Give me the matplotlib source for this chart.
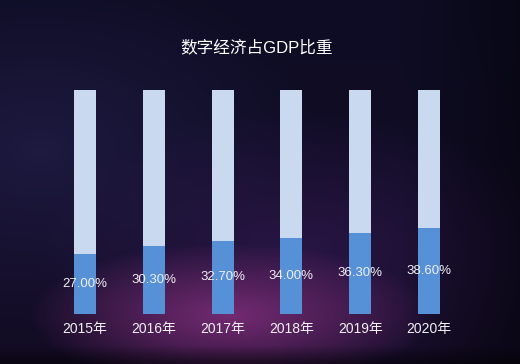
import numpy as np
import matplotlib
matplotlib.use("Agg")
import matplotlib.pyplot as plt

plt.rcParams['font.family'] = ['Liberation Sans', 'Noto Sans CJK SC', 'DejaVu Sans']

years = ['2015年', '2016年', '2017年', '2018年', '2019年', '2020年']
values = [27.00, 30.30, 32.70, 34.00, 36.30, 38.60]
full = [100] * len(values)
labels = [f'{v:.2f}%' for v in values]
title = '数字经济占GDP比重'

W, H = 520, 364
fig = plt.figure(figsize=(W / 100, H / 100), dpi=100)

# background gradient
bg = fig.add_axes([0, 0, 1, 1])
yy, xx = np.mgrid[0:H, 0:W]
base_top = np.array([14, 13, 36]) / 255
base_bot = np.array([20, 12, 38]) / 255
t = (yy / H)[..., None]
img = base_top * (1 - t) + base_bot * t
# bluish haze left
d2 = np.sqrt(((xx - 40) / 280.0) ** 2 + ((yy - 150) / 180.0) ** 2)
haze = np.clip(1 - d2, 0, 1)[..., None]
img = img + haze * (np.array([38, 34, 82]) / 255 - img) * 0.6
# purple haze mid
d3 = np.sqrt(((xx - 300) / 260.0) ** 2 + ((yy - 250) / 140.0) ** 2)
h3 = np.clip(1 - d3, 0, 1)[..., None]
img = img + h3 * (np.array([55, 27, 88]) / 255 - img) * 0.6
# purple glow bottom center
d = np.sqrt(((xx - 230) / 200.0) ** 2 + ((yy - 315) / 72.0) ** 2)
glow = np.clip(1 - d, 0, 1)[..., None] ** 0.9
img = img + glow * (np.array([125, 45, 120]) / 255 - img) * 0.9
# darker right and bottom edges
img = img * (1 - 0.4 * np.clip((xx - 400) / 120.0, 0, 1))[..., None]
img = img * (1 - 0.5 * np.clip((yy - 345) / 19.0, 0, 1))[..., None]
bg.imshow(np.clip(img, 0, 1), extent=[0, W, H, 0], aspect='auto')
bg.set_axis_off()

# main axes
scale = 68.8
x0 = 85
ax = fig.add_axes([0, 50 / H, 1, 224 / H])
ax.set_xlim(-x0 / scale, 5 + (W - 429) / scale)
ax.set_ylim(0, 100)
ax.patch.set_alpha(0)
x = np.arange(len(years))
ax.bar(x, full, width=0.32, color='#c9d9ef', zorder=2)
ax.bar(x, values, width=0.32, color='#5690d6', zorder=3)
for xi, v, lab in zip(x, values, labels):
    ax.text(xi, v / 2, lab, ha='center', va='center', color='#f0f0f5',
            fontsize=9.5, zorder=4)
ax.set_xticks(x)
ax.set_xticklabels(years, color='#f0f0f5', fontsize=10)
ax.tick_params(axis='x', length=0, pad=6)
ax.set_yticks([])
for s in ax.spines.values():
    s.set_visible(False)

fig.text(257 / W, 1 - 47 / H, title, ha='center', va='center',
         color='white', fontsize=12)

fig.savefig('out.png', dpi=100)
